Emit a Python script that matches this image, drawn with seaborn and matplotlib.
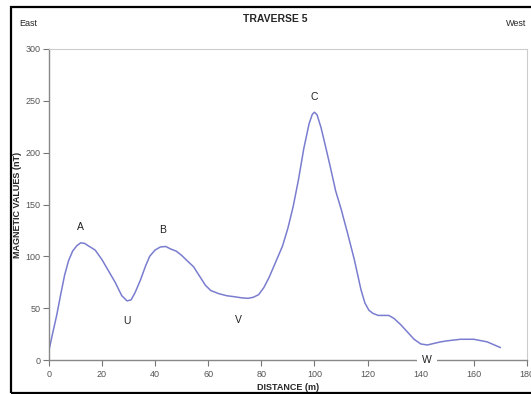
import pandas as pd
import seaborn as sns
import matplotlib.pyplot as plt
from matplotlib.patches import Rectangle

# valores
distance = [0, 1.5, 3, 4.5, 6, 7.5, 9, 10.5, 12, 13.5, 15, 17.5, 20, 22.5, 25, 27.5,
            29.5, 31, 32.5, 34.5, 36.5, 38, 40, 42, 44, 46, 48, 50, 52, 54.5, 57, 59,
            61, 64, 67, 70, 72.5, 75, 77, 79, 81, 83, 85, 88, 90, 92, 94, 96, 98,
            99.2, 100, 101, 102.5, 104, 106, 108, 110, 112.5, 115, 117.5, 119, 120.5, 122,
            124, 126, 128, 130, 132.5, 135, 137.5, 140, 142.5, 145, 147.5, 150, 155,
            160, 165, 170]
magnetic = [8, 26, 43, 63, 82, 96, 105, 110, 113, 112.5, 110, 106, 97, 86, 75, 62,
            57, 58, 65, 77, 91, 100, 106, 109, 109.5, 107, 105, 101, 96, 90, 80, 72,
            67, 64, 62, 61, 60, 59.5, 60.5, 63, 70, 80, 92, 110, 127, 148, 174, 204, 228,
            237, 239, 236.5, 224, 208, 186, 163, 146, 122, 97, 68, 55, 48, 45,
            43, 43, 43, 40, 34, 27, 20, 15.5, 14.5, 16, 17.5, 18.5, 20,
            20, 17.5, 12]

point_labels = ['A', 'B', 'C', 'U', 'V', 'W']
label_x = [11.8, 43, 100, 29.5, 71.3, 142.4]
label_y = [128, 125, 254, 37.6, 38.6, 0]

data = pd.DataFrame({'Distance': distance, 'Magnetic': magnetic})

sns.set_style('white')
plt.rcParams['font.family'] = ['Liberation Sans', 'DejaVu Sans']

fig = plt.figure(figsize=(5.31, 3.94), dpi=100)
ax = fig.add_axes([48.7 / 531, 1 - 360 / 394, (527 - 48.7) / 531, (360 - 49) / 394])

sns.lineplot(data=data, x='Distance', y='Magnetic', ax=ax, color='#7a7dcf', linewidth=1.1)

for lab, lx, ly in zip(point_labels, label_x, label_y):
    if lab == 'W':
        ax.text(lx, ly, lab, ha='center', va='center', fontsize=7.5, color='#222222',
                bbox=dict(facecolor='white', edgecolor='none', pad=4), clip_on=False, zorder=5)
    else:
        ax.text(lx, ly, lab, ha='center', va='center', fontsize=7.5, color='#222222')

ax.set_xlim(0, 180)
ax.set_ylim(0, 300)
ax.set_xticks(range(0, 181, 20))
ax.set_yticks(range(0, 301, 50))
ax.tick_params(axis='both', labelsize=6.5, labelcolor='#555555', direction='out',
               length=4, width=0.8, color='#777777', pad=2)
ax.tick_params(axis='x', bottom=True, pad=3)
ax.tick_params(axis='y', left=True)
for side in ['left', 'bottom']:
    ax.spines[side].set_color('#888888')
    ax.spines[side].set_linewidth(1)
for side in ['top', 'right']:
    ax.spines[side].set_color('#cccccc')
    ax.spines[side].set_linewidth(0.8)

ax.set_xlabel('DISTANCE (m)', fontsize=6.5, fontweight='bold')
ax.set_ylabel('MAGNETIC VALUES (nT)', fontsize=6.5, fontweight='bold')
ax.xaxis.set_label_coords(0.5, -(388 - 360) / 311)
ax.yaxis.set_label_coords((18 - 48.7) / 478.3, 0.5)
ax.xaxis.label.set_va('center')
ax.yaxis.label.set_va('center')

fig.text(275 / 531, 1 - 19 / 394, 'TRAVERSE 5', ha='center', va='center',
         fontsize=7.5, fontweight='bold')
fig.text(28 / 531, 1 - 23 / 394, 'East', ha='center', va='center', fontsize=6.5)
fig.text(516 / 531, 1 - 23 / 394, 'West', ha='center', va='center', fontsize=6.5)

# moldura preta
fig.patches.append(Rectangle((11 / 531, 1 / 394), 1.1, 1 - 7 / 394 - 1 / 394,
                             transform=fig.transFigure, fill=False,
                             edgecolor='black', linewidth=1.6, clip_on=False))

fig.savefig('out.png', dpi=100)
